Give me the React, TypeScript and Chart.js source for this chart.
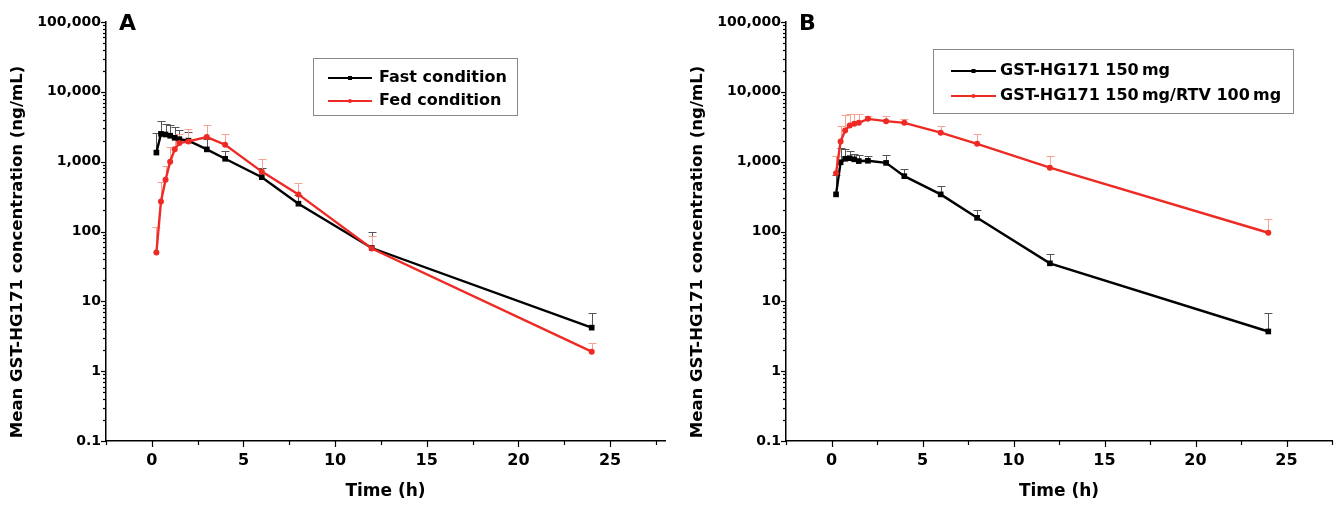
import React, { useEffect, useRef } from 'react';
import { Chart, registerables } from 'chart.js';

Chart.register(...registerables);

// ---- data ----
const timePoints = [0.25, 0.5, 0.75, 1, 1.25, 1.5, 2, 3, 4, 6, 8, 12, 24];

// Panel A
const fastMean = [1350, 2500, 2450, 2350, 2200, 2100, 2000, 1500, 1100, 600, 250, 58, 4.2];
const fastUpper = [2600, 3800, 3500, 3400, 3100, 2800, 2700, 2100, 1400, 800, 330, 100, 6.8];
const fedMean = [50, 270, 550, 1000, 1500, 1850, 1950, 2250, 1750, 720, 340, 57, 1.9];
const fedUpper = [116, 510, 880, 1600, 2100, 2500, 2900, 3300, 2500, 1100, 500, 85, 2.5];

// Panel B
const monoMean = [340, 980, 1100, 1120, 1080, 1020, 1030, 960, 620, 340, 157, 35, 3.7];
const monoUpper = [650, 1560, 1500, 1400, 1300, 1250, 1200, 1250, 790, 450, 200, 47, 6.9];
const rtvMean = [680, 1950, 2800, 3300, 3500, 3600, 4100, 3800, 3600, 2600, 1800, 820, 96];
const rtvUpper = [1200, 3200, 4700, 4850, 4850, 4850, 4550, 4450, 4100, 3200, 2450, 1220, 150];

const yTickValues = [0.1, 1, 10, 100, 1000, 10000, 100000];
const xTickValues = [0, 5, 10, 15, 20, 25];

const yTitle = 'Mean GST-HG171 concentration (ng/mL)';
const xTitle = 'Time (h)';
const legendA = ['Fast condition', 'Fed condition'];
const legendB = ['GST-HG171 150\u2009mg', 'GST-HG171 150\u2009mg/RTV 100\u2009mg'];

const FONT = '"DejaVu Sans", "Liberation Sans", Arial, sans-serif';
const BLACK = '#000000';
const RED = '#ee2a24';

type Series = {
  label: string;
  mean: number[];
  upper: number[];
  color: string;
  errColor: string;
  pointStyle: string;
  radius: number;
};

type PanelCfg = {
  letter: string;
  series: Series[];
  xMax: number;
  padRight: number;
  legend: { x: number; y: number; w: number; h: number; lineX0: number; lineX1: number; textX: number; rows: number[] };
};

function decorPlugin(cfg: PanelCfg) {
  return {
    id: 'decor' + cfg.letter,
    beforeDatasetsDraw(chart: any) {
      const ctx = chart.ctx;
      const xs = chart.scales.x;
      const ys = chart.scales.y;
      ctx.save();
      cfg.series.forEach((s) => {
        ctx.strokeStyle = s.errColor;
        ctx.lineWidth = 1;
        timePoints.forEach((t, i) => {
          const x = Math.round(xs.getPixelForValue(t)) + 0.5;
          const y0 = ys.getPixelForValue(s.mean[i]);
          const y1 = Math.round(ys.getPixelForValue(s.upper[i])) + 0.5;
          ctx.beginPath();
          ctx.moveTo(x, y0);
          ctx.lineTo(x, y1);
          ctx.moveTo(x - 4, y1);
          ctx.lineTo(x + 4, y1);
          ctx.stroke();
        });
      });
      ctx.restore();
    },
    afterDraw(chart: any) {
      const ctx = chart.ctx;
      const xs = chart.scales.x;
      const ys = chart.scales.y;
      const area = chart.chartArea;
      ctx.save();
      ctx.strokeStyle = BLACK;
      ctx.lineWidth = 1.2;
      // y ticks (major + minor)
      for (let e = -1; e <= 5; e++) {
        for (let m = 1; m <= 9; m++) {
          const v = m * Math.pow(10, e);
          if (v > 100000 * 1.0001) break;
          const y = Math.round(ys.getPixelForValue(v)) + 0.5;
          const len = m === 1 ? 5 : 3;
          ctx.beginPath();
          ctx.moveTo(area.left - len, y);
          ctx.lineTo(area.left, y);
          ctx.stroke();
        }
      }
      // x ticks
      for (let v = -2.5; v <= cfg.xMax + 0.001; v += 2.5) {
        const x = Math.round(xs.getPixelForValue(v)) + 0.5;
        const major = Math.abs(v % 5) < 1e-6;
        const len = major ? 6 : 4;
        ctx.beginPath();
        ctx.moveTo(x, area.bottom);
        ctx.lineTo(x, area.bottom + len);
        ctx.stroke();
      }
      // y title
      ctx.fillStyle = BLACK;
      ctx.font = 'bold 16.5px ' + FONT;
      ctx.textAlign = 'center';
      ctx.textBaseline = 'middle';
      ctx.save();
      ctx.translate(18, 252);
      ctx.rotate(-Math.PI / 2);
      ctx.fillText(yTitle, 0, 0);
      ctx.restore();
      // panel letter
      ctx.font = 'bold 22px ' + FONT;
      ctx.textAlign = 'left';
      ctx.fillText(cfg.letter, 119, 24);
      // legend
      const L = cfg.legend;
      ctx.strokeStyle = '#888888';
      ctx.lineWidth = 1;
      ctx.strokeRect(L.x + 0.5, L.y + 0.5, L.w, L.h);
      ctx.font = 'bold 16px ' + FONT;
      cfg.series.forEach((s, i) => {
        const y = L.rows[i];
        ctx.strokeStyle = s.color;
        ctx.lineWidth = 2;
        ctx.beginPath();
        ctx.moveTo(L.lineX0, y);
        ctx.lineTo(L.lineX1, y);
        ctx.stroke();
        ctx.fillStyle = s.color;
        const cx = (L.lineX0 + L.lineX1) / 2;
        if (s.pointStyle === 'rect') {
          ctx.fillRect(cx - 2, y - 2, 4, 4);
        } else {
          ctx.beginPath();
          ctx.arc(cx, y, 2, 0, Math.PI * 2);
          ctx.fill();
        }
        ctx.fillStyle = BLACK;
        ctx.textBaseline = 'middle';
        ctx.fillText(s.label, L.textX, y);
      });
      ctx.restore();
    },
  };
}

function makeChart(canvas: HTMLCanvasElement, cfg: PanelCfg) {
  const datasets = cfg.series.map((s, idx) => ({
    label: s.label,
    data: timePoints.map((t, i) => ({ x: t, y: s.mean[i] })),
    borderColor: s.color,
    backgroundColor: s.color,
    borderWidth: 2.4,
    pointStyle: s.pointStyle as any,
    pointRadius: s.radius,
    pointBorderWidth: 0,
    tension: 0,
    order: cfg.series.length - idx,
  }));
  return new Chart(canvas, {
    type: 'line',
    data: { datasets },
    options: {
      animation: false,
      responsive: false,
      devicePixelRatio: 1,
      layout: { padding: { top: 22, right: cfg.padRight, left: 0, bottom: 0 } },
      plugins: { legend: { display: false }, tooltip: { enabled: false }, title: { display: false } },
      scales: {
        x: {
          type: 'linear',
          min: -2.5,
          max: cfg.xMax,
          afterBuildTicks: (s: any) => {
            s.ticks = xTickValues.map((v) => ({ value: v }));
          },
          afterFit: (s: any) => {
            s.height = 72;
          },
          grid: { display: false, drawTicks: false },
          border: { display: true, color: BLACK, width: 1.5 },
          ticks: {
            autoSkip: false,
            maxRotation: 0,
            padding: 10,
            color: BLACK,
            font: { family: FONT, size: 16, weight: 'bold' },
          },
          title: {
            display: true,
            text: xTitle,
            color: BLACK,
            font: { family: FONT, size: 17, weight: 'bold' },
            padding: { top: 0, bottom: 11 },
          },
        },
        y: {
          type: 'logarithmic',
          min: 0.1,
          max: 100000,
          afterBuildTicks: (s: any) => {
            s.ticks = yTickValues.map((v) => ({ value: v }));
          },
          afterFit: (s: any) => {
            s.width = 106;
          },
          grid: { display: false, drawTicks: false },
          border: { display: true, color: BLACK, width: 1.5 },
          ticks: {
            autoSkip: false,
            padding: 5,
            color: BLACK,
            font: { family: FONT, size: 14, weight: 'bold' },
            callback: (v: any) => Number(v).toLocaleString('en-US'),
          },
        },
      },
    },
    plugins: [decorPlugin(cfg)],
  });
}

const panelA: PanelCfg = {
  letter: 'A',
  xMax: 28,
  padRight: 15,
  series: [
    { label: legendA[0], mean: fastMean, upper: fastUpper, color: BLACK, errColor: '#555555', pointStyle: 'rect', radius: 4 },
    { label: legendA[1], mean: fedMean, upper: fedUpper, color: RED, errColor: '#f4a292', pointStyle: 'circle', radius: 3 },
  ],
  legend: { x: 313, y: 58, w: 204, h: 57, lineX0: 328, lineX1: 372, textX: 379, rows: [78, 101] },
};

const panelB: PanelCfg = {
  letter: 'B',
  xMax: 27.5,
  padRight: 0,
  series: [
    { label: legendB[0], mean: monoMean, upper: monoUpper, color: BLACK, errColor: '#555555', pointStyle: 'rect', radius: 4 },
    { label: legendB[1], mean: rtvMean, upper: rtvUpper, color: RED, errColor: '#f4a292', pointStyle: 'circle', radius: 3 },
  ],
  legend: { x: 253, y: 49, w: 360, h: 64, lineX0: 271, lineX1: 316, textX: 320, rows: [71, 96] },
};

export default function App() {
  const refA = useRef<HTMLCanvasElement>(null);
  const refB = useRef<HTMLCanvasElement>(null);
  useEffect(() => {
    const a = makeChart(refA.current!, panelA);
    const b = makeChart(refB.current!, panelB);
    return () => {
      a.destroy();
      b.destroy();
    };
  }, []);
  return (
    <div style={{ position: 'fixed', left: 0, top: 0, width: 1336, height: 513, background: '#ffffff', overflow: 'hidden' }}>
      <canvas ref={refA} width={680} height={513} style={{ position: 'absolute', left: 0, top: 0, width: 680, height: 513 }} />
      <canvas ref={refB} width={656} height={513} style={{ position: 'absolute', left: 680, top: 0, width: 656, height: 513 }} />
    </div>
  );
}
